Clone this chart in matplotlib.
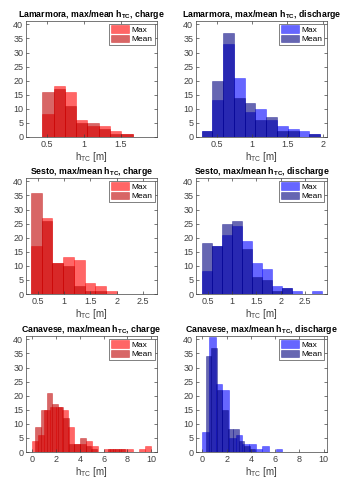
import numpy as np
import matplotlib
matplotlib.use("Agg")
import matplotlib.pyplot as plt

plt.rcParams['font.family'] = ['Liberation Sans', 'DejaVu Sans']
plt.rcParams['mathtext.fontset'] = 'custom'
plt.rcParams['mathtext.rm'] = 'Liberation Sans'
plt.rcParams['mathtext.bf'] = 'Liberation Sans:bold'
plt.rcParams['mathtext.default'] = 'regular'

# histogram data: counts per bin, bins given by first edge and bin width
sites = ['Lamarmora', 'Sesto', 'Canavese']
modes = ['charge', 'discharge']

# Lamarmora charge
lam_ch_max = [8, 18, 16, 6, 4, 4, 2, 1]
lam_ch_mean = [16, 17, 11, 5, 5, 3, 1, 1]
lam_ch_bins = (0.44, 0.1525)
# Lamarmora discharge
lam_dis_max = [2, 13, 33, 21, 9, 10, 6, 4, 3, 2, 1]
lam_dis_mean = [2, 20, 37, 14, 12, 6, 7, 2, 2, 0, 1]
lam_dis_bins = (0.29, 0.152)
# Sesto charge
ses_ch_max = [17, 27, 11, 13, 12, 4, 3, 1]
ses_ch_mean = [36, 26, 11, 10, 3, 1, 1, 0]
ses_ch_bins = (0.37, 0.204)
# Sesto discharge
ses_dis_max = [8, 17, 21, 24, 19, 11, 9, 3, 2, 1, 0, 1]
ses_dis_mean = [18, 17, 25, 26, 16, 6, 5, 1, 2, 0, 0, 0]
ses_dis_bins = (0.38, 0.205)
# Canavese charge (max and mean use different bins)
can_ch_max = [4, 6, 15, 16, 16, 15, 9, 3, 3, 4, 2, 0, 1, 1, 1, 1, 1, 0, 1, 2]
can_ch_max_bins = (0.0, 0.5)
can_ch_mean = [9, 15, 21, 17, 16, 12, 3, 3, 5, 2, 1, 0, 0, 1, 1, 1]
can_ch_mean_bins = (0.25, 0.47)
# Canavese discharge
can_dis_max = [7, 41, 24, 22, 5, 6, 3, 3, 1, 2, 0, 1]
can_dis_max_bins = (0.0, 0.55)
can_dis_mean = [34, 37, 22, 15, 8, 8, 4, 2, 1]
can_dis_mean_bins = (0.3, 0.45)

panels = [
    (lam_ch_max, lam_ch_bins, lam_ch_mean, lam_ch_bins, (0.22, 1.99), [0.5, 1, 1.5]),
    (lam_dis_max, lam_dis_bins, lam_dis_mean, lam_dis_bins, (0.21, 2.06), [0.5, 1, 1.5, 2]),
    (ses_ch_max, ses_ch_bins, ses_ch_mean, ses_ch_bins, (0.28, 2.76), [0.5, 1, 1.5, 2, 2.5]),
    (ses_dis_max, ses_dis_bins, ses_dis_mean, ses_dis_bins, (0.26, 2.95), [0.5, 1, 1.5, 2, 2.5]),
    (can_ch_max, can_ch_max_bins, can_ch_mean, can_ch_mean_bins, (-0.54, 10.5), [0, 2, 4, 6, 8, 10]),
    (can_dis_max, can_dis_max_bins, can_dis_mean, can_dis_mean_bins, (-0.52, 10.27), [0, 2, 4, 6, 8, 10]),
]

colors = {
    'charge': ((1.0, 0.0, 0.0), (0.75, 0.0, 0.0)),
    'discharge': ((0.0, 0.0, 1.0), (0.0, 0.0, 0.5)),
}

fig = plt.figure(figsize=(3.4, 4.8), dpi=100)
W, H = 340, 480
col_x = [26, 196]
row_y = [21, 178, 336]
aw, ah = 131, 116

for i, (mx, mxb, mn, mnb, xl, xt) in enumerate(panels):
    r, c = divmod(i, 2)
    site, mode = sites[r], modes[c]
    ax = fig.add_axes([col_x[c] / W, 1 - (row_y[r] + ah) / H, aw / W, ah / H])
    cmax, cmean = colors[mode]

    left = mxb[0] + mxb[1] * np.arange(len(mx))
    ax.bar(left, mx, width=mxb[1], align='edge', color=cmax, alpha=0.6,
           edgecolor=cmax, linewidth=0.4, label='Max')
    left = mnb[0] + mnb[1] * np.arange(len(mn))
    ax.bar(left, mn, width=mnb[1], align='edge', color=cmean, alpha=0.6,
           edgecolor=cmean, linewidth=0.4, label='Mean')

    ax.set_xlim(xl)
    ax.set_ylim(0, 41.2)
    ax.set_xticks(xt)
    ax.set_xticklabels([f'{t:g}' for t in xt])
    ax.set_yticks(range(0, 41, 5))
    ax.tick_params(direction='in', length=2, width=0.5, labelsize=6.5,
                   colors='0.25', top=True, right=True, pad=2)
    for s in ax.spines.values():
        s.set_linewidth(0.5)
        s.set_color('0.25')
    ax.set_xlabel('h$_{TC}$ [m]', fontsize=7, color='0.25', labelpad=1)
    ax.set_title(f'{site}, max/mean h$_{{TC}}$, {mode}', fontsize=6.3,
                 fontweight='bold', pad=3)
    leg = ax.legend(loc='upper right', fontsize=6, handlelength=2.2,
                    handleheight=1.0, borderpad=0.2, labelspacing=0.1,
                    handletextpad=0.3, fancybox=False, framealpha=1,
                    borderaxespad=0.3)
    leg.get_frame().set_linewidth(0.5)
    leg.get_frame().set_edgecolor('0.3')

fig.savefig('out.png', dpi=100)
